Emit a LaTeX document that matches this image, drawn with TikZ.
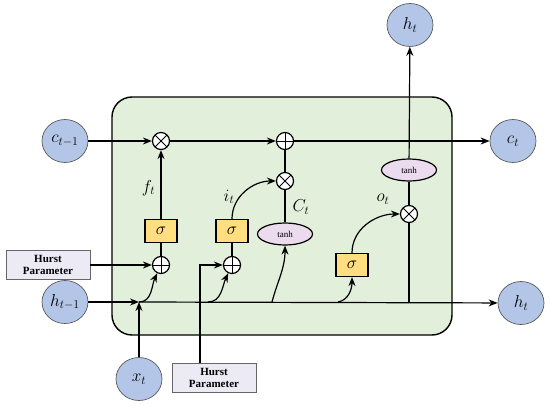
\documentclass[tikz,border=0pt]{standalone}
\usepackage{fontspec}
\setmainfont{Liberation Serif}
\usetikzlibrary{positioning, arrows.meta, shapes.geometric}

\definecolor{cellgreen}{RGB}{226,239,218}
\definecolor{stateblue}{RGB}{180,198,231}
\definecolor{gateyellow}{RGB}{255,222,128}
\definecolor{actpink}{RGB}{236,218,238}
\definecolor{hurstgray}{RGB}{236,234,244}

\begin{document}
\begin{tikzpicture}[x=1pt, y=-1pt, >={Stealth[length=9pt, width=7pt]}, line width=1.2pt]
\tikzset{
    every node/.style={align=center},
    state/.style={ellipse, draw=black!65, fill=stateblue, line width=0.7pt,
        minimum width=46pt, minimum height=43pt, inner sep=0pt, font=\fontsize{18}{18}\selectfont},
    gatebox/.style={rectangle, draw, fill=gateyellow, minimum width=32pt, minimum height=23pt,
        inner sep=0pt, font=\fontsize{16}{16}\selectfont},
    actfun/.style={ellipse, draw, fill=actpink, minimum width=55pt, minimum height=22pt,
        inner sep=0pt, font=\fontsize{9}{9}\selectfont},
    mult/.style={circle, draw, fill=white, minimum size=17pt, inner sep=0pt,
        path picture={\draw[line width=1pt] (path picture bounding box.north west) -- (path picture bounding box.south east)
            (path picture bounding box.south west) -- (path picture bounding box.north east);}},
    addop/.style={circle, draw, fill=white, minimum size=17pt, inner sep=0pt,
        path picture={\draw[line width=1pt] (path picture bounding box.north) -- (path picture bounding box.south)
            (path picture bounding box.west) -- (path picture bounding box.east);}},
    hurst/.style={rectangle, draw=black!60, fill=hurstgray, line width=0.8pt, minimum width=84pt,
        minimum height=29pt, inner sep=1pt, font=\bfseries\fontsize{11}{12}\selectfont},
    gatelabel/.style={font=\fontsize{18}{18}\selectfont}
}
\useasboundingbox (0,0) rectangle (550,407);

% LSTM cell
\node[draw, fill=cellgreen, rounded corners=20pt, line width=1.4pt,
    minimum width=340pt, minimum height=238pt] (cell) at (282,216) {};

% inputs and outputs
\node[state] (c_prev) at (65,141) {$c_{t-1}$};
\node[state] (h_prev) at (65,302) {$h_{t-1}$};
\node[state] (x_in) at (139,379) {$x_t$};
\node[state] (c_out) at (513,141) {$c_t$};
\node[state] (h_out) at (521,303) {$h_t$};
\node[state] (h_top) at (410,25) {$h_t$};
\node[hurst] (hurst_f) at (48,265) {Hurst\\Parameter};
\node[hurst] (hurst_i) at (214,378) {Hurst\\Parameter};

% gates
\node[mult] (mul_f) at (161,141) {};
\node[gatebox] (sig_f) at (161,231) {$\sigma$};
\node[addop] (add_f) at (161,265) {};
\node[gatebox] (sig_i) at (232,231) {$\sigma$};
\node[addop] (add_i) at (232,265) {};
\node[addop] (add_c) at (285,141) {};
\node[mult] (mul_i) at (285,181) {};
\node[actfun] (tanh_c) at (285,234) {tanh};
\node[gatebox] (sig_o) at (352,265) {$\sigma$};
\node[mult] (mul_o) at (409,214) {};
\node[actfun] (tanh_o) at (409,170) {tanh};

% points on the hidden line
\coordinate (jx) at (139,302);
\coordinate (j2) at (208,302);
\coordinate (j3) at (272,302);
\coordinate (j4) at (338,302);
\coordinate (j5) at (409,302);
\coordinate (hb) at (200,265);

% cell state
\draw[->] (c_prev) -- (mul_f);
\draw[->] (mul_f) -- (add_c);
\draw[->] (add_c) -- (c_out);

% hidden state and input
\draw[->] (h_prev) -- (jx);
\draw[->] (x_in) -- (jx);
\draw[->] (jx) -- (h_out);

% forget gate
\draw[->] (jx) to[out=0, in=-115] (add_f);
\draw[->] (hurst_f) -- (add_f);
\draw (add_f) -- (sig_f);
\draw[->] (sig_f) -- node[gatelabel, left=2pt, pos=0.45] {$f_t$} (mul_f);

% input gate
\draw[->] (j2) to[out=0, in=-115] (add_i);
\draw[->] (hurst_i.north -| hb) |- (add_i);
\draw (add_i) -- (sig_i);
\draw[->] (sig_i) to[out=90, in=180] (mul_i);
\node[gatelabel] at (229,197) {$i_t$};
\draw[->] (j3) to[out=75, in=-90] (tanh_c);
\draw (tanh_c) -- (mul_i);
\draw (mul_i) -- (add_c);
\node[gatelabel] at (301,207) {$C_t$};

% output gate
\draw[->] (j4) to[out=10, in=-90] (sig_o);
\draw[->] (sig_o) to[out=90, in=180] (mul_o);
\node[gatelabel] at (383,199) {$o_t$};
\draw (j5) -- (mul_o);
\draw (mul_o) -- (tanh_o);
\draw[->] (tanh_o) -- (h_top);
\end{tikzpicture}
\end{document}
